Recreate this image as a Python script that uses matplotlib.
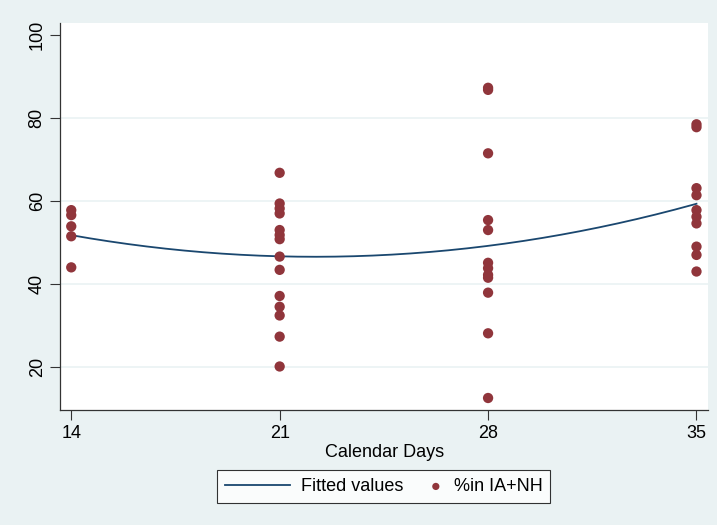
import numpy as np
import matplotlib
matplotlib.use("Agg")
import matplotlib.pyplot as plt
from matplotlib.legend_handler import HandlerPathCollection

# observed percentages per calendar day
day14 = [57.8, 56.6, 53.9, 51.5, 44.0]
day21 = [66.8, 59.4, 58.2, 57.0, 53.0, 51.8, 50.8, 46.6, 43.4, 37.1, 34.5, 32.4, 27.3, 20.1]
day28 = [87.3, 86.8, 71.5, 55.4, 53.0, 45.1, 43.8, 42.2, 41.5, 37.9, 28.1, 12.5]
day35 = [78.5, 77.8, 63.1, 61.4, 57.8, 56.2, 54.6, 49.0, 47.0, 43.0]
days = [14, 21, 28, 35]
xticks = [14, 21, 28, 35]
yticks = [20, 40, 60, 80, 100]

plt.rcParams["font.family"] = ["Liberation Sans", "DejaVu Sans"]

groups = [day14, day21, day28, day35]
x = np.concatenate([[d] * len(g) for d, g in zip(days, groups)])
y = np.concatenate(groups)

# quadratic fit, like Stata's qfit
coef = np.polyfit(x, y, 2)
xf = np.linspace(min(days), max(days), 200)
yf = np.polyval(coef, xf)


class MarkerRight(HandlerPathCollection):
    # put the legend dot near the label, like Stata does
    def get_xdata(self, legend, xdescent, ydescent, width, height, fontsize):
        xd = [width - 5.0 - xdescent]
        return xd, xd


bg = "#EAF2F3"
fig = plt.figure(figsize=(7.17, 5.25), dpi=100, facecolor=bg)
ax = fig.add_axes([0.084, 0.219, 0.904, 0.737])
ax.set_facecolor("white")

for yt in [20, 40, 60, 80]:
    ax.axhline(yt, color=bg, lw=1.2, zorder=0)

line, = ax.plot(xf, yf, color="#1A476F", lw=1.3, zorder=2)
pts = ax.scatter(x, y, s=55, color="#90353B", edgecolors="none", zorder=3)

ax.set_xlim(13.63, 35.4)
ax.set_ylim(9.6, 102.9)
ax.set_xticks(xticks)
ax.set_yticks(yticks)
ax.tick_params(axis="both", labelsize=13, length=7, width=0.8, color="#333333")
for lab in ax.get_yticklabels():
    lab.set_rotation(90)
    lab.set_va("center")
for s in ["top", "right"]:
    ax.spines[s].set_visible(False)
for s in ["left", "bottom"]:
    ax.spines[s].set_color("#333333")
    ax.spines[s].set_linewidth(0.9)

ax.set_xlabel("Calendar Days", fontsize=13, labelpad=1.5)

leg = fig.legend([line, pts], ["Fitted values", "%in IA+NH"], loc="center",
                 bbox_to_anchor=(0.535, 0.073), ncol=2, fontsize=13,
                 frameon=True, fancybox=False, edgecolor="black",
                 handlelength=3.6, handletextpad=0.6, columnspacing=-1.4,
                 scatterpoints=1, markerscale=0.7, borderpad=0.45,
                 handler_map={pts: MarkerRight()})
leg.get_frame().set_linewidth(0.8)

fig.savefig("out.png", dpi=100, facecolor=bg)
